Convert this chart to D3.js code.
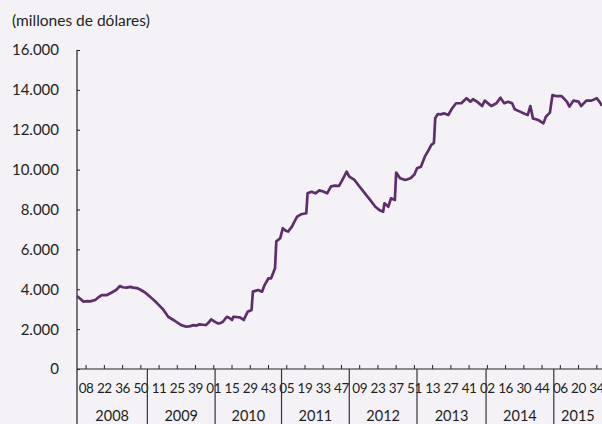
<!DOCTYPE html>
<html>
<head>
<meta charset="utf-8">
<script src="https://cdnjs.cloudflare.com/ajax/libs/d3/7.8.5/d3.min.js"></script>
<style>
  html, body { margin: 0; padding: 0; background: #f4f2f6; }
  svg { display: block; font-family: Lato, "Open Sans", sans-serif; }
</style>
</head>
<body>
<div class="chart"></div>
<script>
var width = 602,
    height = 424;

// weeks since the first observation (early 2008) and reserves, millions of US$
var weeks = [0, 2, 5, 8, 10, 14, 17, 19, 23, 27, 30, 33, 35, 38, 41, 43, 46, 48, 52, 56,
    61, 66, 70, 75, 80, 84, 87, 89, 92, 94, 97, 99, 101, 103, 105, 108, 110, 112, 115, 117,
    119, 120, 123, 125, 128, 131, 134, 135, 137, 139, 142, 144, 147, 149, 152, 153, 156, 158,
    160, 162, 165, 167, 169, 172, 176, 177, 180, 183, 186, 189, 192, 195, 198, 201, 203, 207,
    209, 213, 217, 221, 225, 229, 232, 235, 236, 239, 241, 244, 245, 248, 252, 256, 259, 261,
    264, 267, 270, 272, 274, 275, 277, 279, 282, 285, 288, 291, 295, 299, 302, 304, 307, 311,
    313, 316, 318, 322, 325, 328, 331, 334, 336, 340, 344, 346, 348, 350, 354, 358, 360, 363,
    365, 367, 369, 372, 376, 378, 381, 385, 387, 391, 395, 399, 401, 403];
var reserves = [3660, 3550, 3380, 3400, 3390, 3460, 3620, 3710, 3710, 3850, 3960, 4160, 4100, 4080, 4120, 4080, 4060, 4000, 3850, 3630,
    3330, 3000, 2620, 2420, 2200, 2120, 2150, 2200, 2180, 2240, 2220, 2200, 2330, 2490, 2400, 2290, 2300, 2370, 2620, 2560,
    2460, 2620, 2600, 2590, 2460, 2870, 2960, 3880, 3920, 3960, 3880, 4210, 4550, 4550, 5050, 6400, 6560, 7060,
    6950, 6890, 7140, 7400, 7640, 7760, 7810, 8810, 8890, 8810, 8960, 8900, 8810, 9160, 9200, 9180, 9400, 9900,
    9650, 9480, 9140, 8810, 8480, 8140, 7980, 7890, 8310, 8140, 8560, 8480, 9850, 9570, 9480, 9570, 9750, 10070,
    10150, 10650, 10990, 11240, 11340, 12590, 12790, 12770, 12820, 12740, 13080, 13330, 13330, 13580, 13410, 13530, 13410, 13190,
    13460, 13300, 13190, 13330, 13610, 13330, 13400, 13330, 13030, 12910, 12790, 12740, 13190, 12570, 12490, 12320, 12660, 12860,
    13740, 13700, 13690, 13690, 13410, 13160, 13460, 13410, 13190, 13460, 13460, 13580, 13410, 13200];

var yTicks = [0, 2000, 4000, 6000, 8000, 10000, 12000, 14000, 16000];
var weekLabels = ["08", "22", "36", "50", "11", "25", "39", "01", "15", "29", "43", "05", "19", "33", "47",
    "09", "23", "37", "51", "13", "27", "41", "02", "16", "30", "44", "06", "20", "34"];
var years = ["2008", "2009", "2010", "2011", "2012", "2013", "2014", "2015"];
var yearStart = [0, 54, 106, 157, 209, 261, 314, 366];
var lastWeek = 403;

var plotLeft = 77, plotBottom = 369, plotTop = 50;

var x = d3.scaleLinear().domain([0, lastWeek]).range([plotLeft, width]);
var y = d3.scaleLinear().domain([0, 16000]).range([plotBottom, plotTop]);

var svg = d3.select(".chart").append("svg")
    .attr("width", width)
    .attr("height", height);

svg.append("rect")
    .attr("width", width)
    .attr("height", height)
    .attr("fill", "#f4f2f6");

svg.append("text")
    .attr("x", 12)
    .attr("y", 26)
    .attr("font-size", 15.5)
    .attr("fill", "#231f20")
    .text("(millones de dólares)");

// y axis: labels on the left, ticks inside
var yAxis = d3.axisRight(y)
    .tickValues(yTicks)
    .tickSize(3)
    .tickFormat("");
var gy = svg.append("g")
    .attr("transform", "translate(" + plotLeft + ",0)")
    .call(yAxis);
gy.select(".domain").remove();
gy.selectAll("line").attr("stroke", "#222");

svg.append("g").selectAll("text")
    .data(yTicks)
    .enter()
    .append("text")
    .attr("x", 59)
    .attr("y", function (d) { return y(d); })
    .attr("dy", "0.36em")
    .attr("text-anchor", "end")
    .attr("font-size", 15)
    .attr("fill", "#231f20")
    .text(function (d) { return d3.format(",")(d).replace(/,/g, "."); });

svg.append("line")
    .attr("x1", plotLeft).attr("x2", plotLeft)
    .attr("y1", plotTop).attr("y2", height)
    .attr("stroke", "#222")
    .attr("stroke-width", 1.2);

// x axis with week ticks pointing up
var tickWeeks = weekLabels.map(function (d, i) { return 7 + 14 * i; });
svg.append("line")
    .attr("x1", plotLeft).attr("x2", width)
    .attr("y1", plotBottom).attr("y2", plotBottom)
    .attr("stroke", "#222")
    .attr("stroke-width", 1.2);

svg.append("g").selectAll("line")
    .data(tickWeeks)
    .enter()
    .append("line")
    .attr("x1", function (d) { return x(d); })
    .attr("x2", function (d) { return x(d); })
    .attr("y1", plotBottom)
    .attr("y2", plotBottom - 4)
    .attr("stroke", "#222");

svg.append("g").selectAll("text")
    .data(weekLabels)
    .enter()
    .append("text")
    .attr("x", function (d, i) { return x(tickWeeks[i]); })
    .attr("y", 393)
    .attr("text-anchor", "middle")
    .attr("font-size", 13.5)
    .attr("letter-spacing", -0.4)
    .attr("fill", "#231f20")
    .text(function (d) { return d; });

// year separators and labels
svg.append("g").selectAll("line")
    .data(yearStart.slice(1))
    .enter()
    .append("line")
    .attr("x1", function (d) { return x(d); })
    .attr("x2", function (d) { return x(d); })
    .attr("y1", plotBottom)
    .attr("y2", height)
    .attr("stroke", "#333")
    .attr("stroke-width", 1.2);

svg.append("g").selectAll("text")
    .data(years)
    .enter()
    .append("text")
    .attr("x", function (d, i) {
        var end = i + 1 < yearStart.length ? yearStart[i + 1] : lastWeek;
        return x((yearStart[i] + end) / 2);
    })
    .attr("y", 421)
    .attr("text-anchor", "middle")
    .attr("font-size", 14.5)
    .attr("fill", "#231f20")
    .text(function (d) { return d; });

var line = d3.line()
    .x(function (d, i) { return x(weeks[i]); })
    .y(function (d) { return y(d); });

svg.append("path")
    .datum(reserves)
    .attr("d", line)
    .attr("fill", "none")
    .attr("stroke", "#5e2d6c")
    .attr("stroke-width", 2.7)
    .attr("stroke-linejoin", "round");
</script>
</body>
</html>
